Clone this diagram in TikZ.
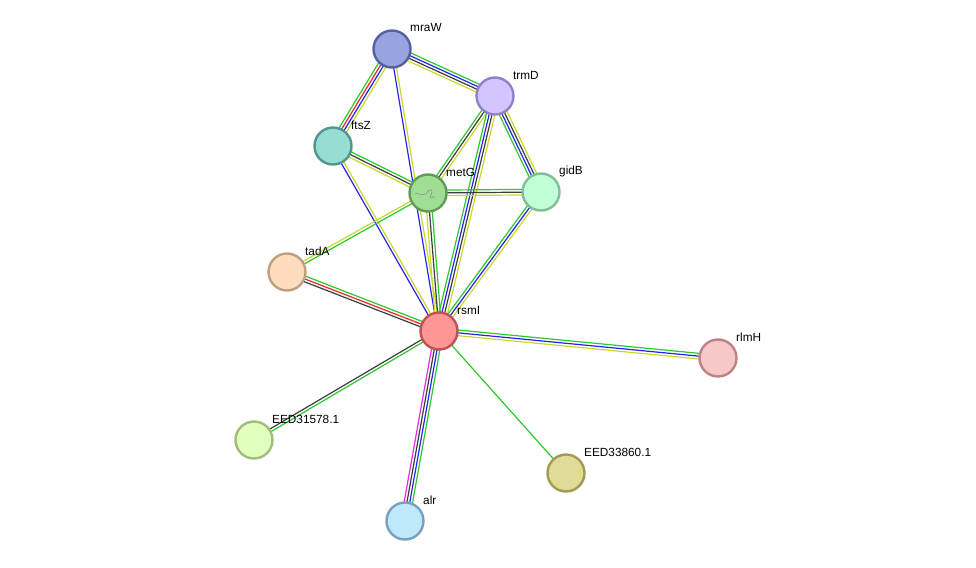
\documentclass[tikz,border=0pt]{standalone}
\usepackage{fontspec}
\setmainfont{Liberation Sans}
\usetikzlibrary{calc,backgrounds}

\definecolor{lgreen}{RGB}{45,200,45}
\definecolor{lblue}{RGB}{35,35,235}
\definecolor{lyellow}{RGB}{200,215,45}
\definecolor{lgrey}{RGB}{60,60,60}
\definecolor{lred}{RGB}{235,40,40}
\definecolor{lmagenta}{RGB}{225,45,225}

\tikzset{
  prot/.style={circle,draw,line width=2.4pt,minimum size=37pt,inner sep=0pt},
  lbl/.style={font=\fontsize{11.8}{14}\selectfont,inner sep=0pt,anchor=west,xshift=18pt,yshift=21pt},
  lnk/.style={line width=1.2pt},
}

% one coloured line per evidence channel, side by side
\newcommand{\stredge}[3]{%
  \foreach \c [count=\k] in {#3} {\xdef\nlin{\k}}%
  \foreach \c [count=\k] in {#3} {%
    \pgfmathsetmacro\off{((\nlin+1)/2-\k)*2.8}%
    \draw[lnk,draw=\c] ($(#1.center)!\off pt!90:(#2.center)$) -- ($(#2.center)!\off pt!-90:(#1.center)$);
  }%
}

\begin{document}
\begin{tikzpicture}[x=1pt,y=-1pt]
  \useasboundingbox (0,0) rectangle (976,567);

  % proteins
  \node[prot,fill={rgb,255:red,152;green,164;blue,223},draw={rgb,255:red,84;green,96;blue,160}] (mraW) at (392,49) {};
  \node[prot,fill={rgb,255:red,212;green,196;blue,255},draw={rgb,255:red,148;green,128;blue,200}] (trmD) at (495,96) {};
  \node[prot,fill={rgb,255:red,150;green,222;blue,212},draw={rgb,255:red,80;green,150;blue,140}] (ftsZ) at (333,146) {};
  \node[prot,fill={rgb,255:red,160;green,222;blue,150},draw={rgb,255:red,96;green,156;blue,88}] (metG) at (428,193) {};
  \node[prot,fill={rgb,255:red,192;green,255;blue,216},draw={rgb,255:red,128;green,190;blue,152}] (gidB) at (541,192) {};
  \node[prot,fill={rgb,255:red,255;green,220;blue,190},draw={rgb,255:red,190;green,160;blue,128}] (tadA) at (287,272) {};
  \node[prot,fill={rgb,255:red,255;green,150;blue,150},draw={rgb,255:red,190;green,82;blue,82}] (rsmI) at (439,331) {};
  \node[prot,fill={rgb,255:red,246;green,200;blue,200},draw={rgb,255:red,190;green,130;blue,130}] (rlmH) at (718,358) {};
  \node[prot,fill={rgb,255:red,226;green,255;blue,192},draw={rgb,255:red,160;green,190;blue,120}] (EED31578) at (254,440) {};
  \node[prot,fill={rgb,255:red,224;green,220;blue,152},draw={rgb,255:red,160;green,155;blue,80}] (EED33860) at (566,473) {};
  \node[prot,fill={rgb,255:red,192;green,232;blue,252},draw={rgb,255:red,120;green,160;blue,190}] (alr) at (405,521) {};

  % structure sketch in metG
  \draw[gray,line width=0.4pt] ($(metG)+(-13,0)$) .. controls ($(metG)+(-6,2)$) .. ($(metG)+(-2,1)$)
    .. controls ($(metG)+(2,-6)$) and ($(metG)+(6,-4)$) .. ($(metG)+(3,2)$)
    .. controls ($(metG)+(0,6)$) and ($(metG)+(5,6)$) .. ($(metG)+(6,3)$);

  % names
  \node[lbl] at (mraW) {mraW};
  \node[lbl] at (trmD) {trmD};
  \node[lbl] at (ftsZ) {ftsZ};
  \node[lbl] at (metG) {metG};
  \node[lbl] at (gidB) {gidB};
  \node[lbl] at (tadA) {tadA};
  \node[lbl] at (rsmI) {rsmI};
  \node[lbl] at (rlmH) {rlmH};
  \node[lbl] at (EED31578) {EED31578.1};
  \node[lbl] at (EED33860) {EED33860.1};
  \node[lbl] at (alr) {alr};

  \begin{pgfonlayer}{background}
  \stredge{mraW}{trmD}{lgreen,lblue,lgrey,lyellow}
  \stredge{mraW}{ftsZ}{lyellow,lblue,lred,lgreen}
  \stredge{mraW}{rsmI}{lyellow,lblue}
  \stredge{trmD}{metG}{lyellow,lgrey,lgreen}
  \stredge{trmD}{gidB}{lyellow,lgrey,lblue,lgreen}
  \stredge{trmD}{rsmI}{lyellow,lgrey,lblue,lgreen}
  \stredge{ftsZ}{metG}{lgreen,lgrey,lyellow}
  \stredge{ftsZ}{rsmI}{lyellow,lblue}
  \stredge{metG}{gidB}{lgreen,lgrey,lyellow}
  \stredge{metG}{tadA}{lgreen,lyellow}
  \stredge{metG}{rsmI}{lgreen,lgrey,lyellow}
  \stredge{gidB}{rsmI}{lyellow,lblue,lgreen}
  \stredge{tadA}{rsmI}{lgreen,lred,lgrey}
  \stredge{rsmI}{rlmH}{lgreen,lblue,lyellow}
  \stredge{rsmI}{EED31578}{lgreen,lgrey}
  \stredge{rsmI}{alr}{lgreen,lblue,lgrey,lmagenta}
  \stredge{rsmI}{EED33860}{lgreen}
  \end{pgfonlayer}

\end{tikzpicture}
\end{document}
